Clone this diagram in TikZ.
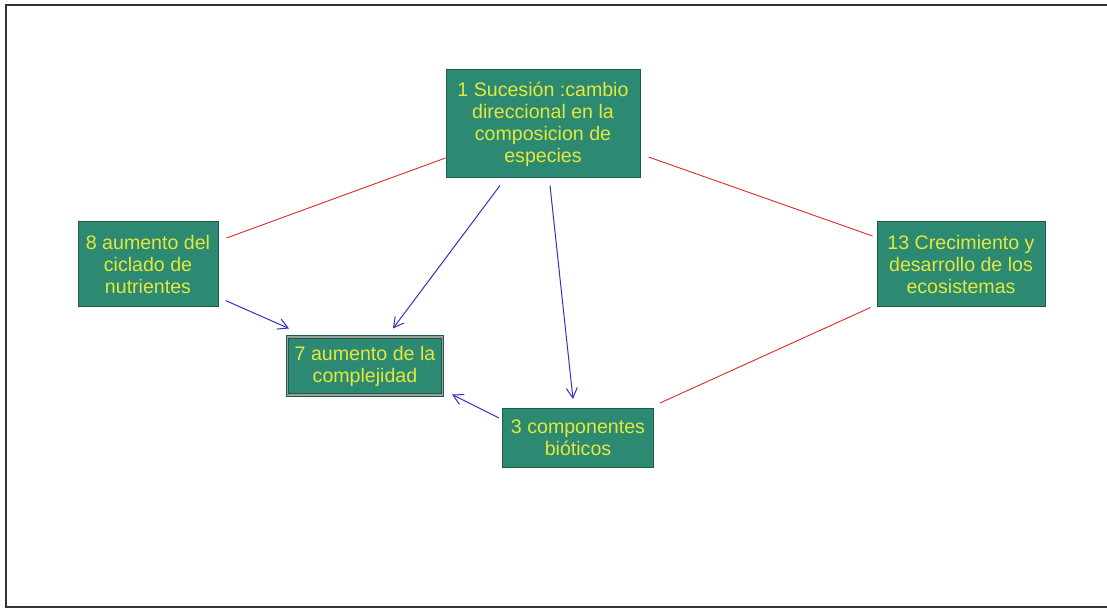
\documentclass[tikz,border=0pt]{standalone}
\usepackage{fontspec}
\setmainfont{Liberation Sans}
\usepackage{xcolor}
\usepackage{tikz}
\usetikzlibrary{arrows.meta}
\definecolor{boxfill}{RGB}{44,138,114}
\definecolor{boxedge}{RGB}{30,90,74}
\definecolor{boxtext}{RGB}{228,232,60}
\definecolor{linkred}{RGB}{225,40,40}
\definecolor{linkblue}{RGB}{50,50,190}

\begin{document}
\begin{tikzpicture}[x=1pt, y=-1pt,
			box/.style={rectangle, draw=boxedge, line width=1pt, fill=boxfill, text=boxtext,
				align=center, inner sep=0pt, font=\fontsize{19.6}{22}\selectfont},
			cplx/.style={box, draw=boxedge, double=gray!75, double distance=1.2pt},
			rel/.style={draw=linkred, line width=0.9pt},
			arr/.style={-{Straight Barb[length=10pt, width=11pt]}, draw=linkblue, line width=1pt}
			]
			\useasboundingbox (0,0) rectangle (1107,609);
			\draw[line width=2pt, black!80] (1107,5) -- (6,5) -- (6,607) -- (1107,607);
			
			\node[box, minimum width=194pt, minimum height=108pt] (suc) at (543,124) {1 Sucesión :cambio\\direccional en la\\composicion de\\especies};
			\node[box, minimum width=140pt, minimum height=84pt] (cic) at (148,264) {8 aumento del\\ciclado de\\nutrientes};
			\node[cplx, minimum width=155pt, minimum height=58pt] (com) at (365,366) {7 aumento de la\\complejidad};
			\node[box, minimum width=151pt, minimum height=59pt] (bio) at (578,438) {3 componentes\\bióticos};
			\node[box, minimum width=168pt, minimum height=84pt] (eco) at (961,264) {13 Crecimiento y\\desarrollo de los\\ecosistemas};
			
			\draw[rel] ([yshift=-34pt]suc.west) -- ([xshift=8pt, yshift=26pt]cic.east);
			\draw[rel] ([xshift=8pt, yshift=-33pt]suc.east) -- ([xshift=-4pt, yshift=28pt]eco.west);
			\draw[rel] ([xshift=-6pt, yshift=-1pt]eco.south west) -- ([xshift=6pt, yshift=5pt]bio.north east);
			
			\draw[arr] ([xshift=7pt, yshift=6pt]cic.south east) -- ([xshift=2pt, yshift=8pt]com.north west);
			\draw[arr] ([xshift=-43pt, yshift=-7pt]suc.south) -- ([xshift=28pt, yshift=8pt]com.north);
			\draw[arr] ([xshift=7pt, yshift=-7pt]suc.south) -- ([xshift=-5pt, yshift=9pt]bio.north);
			\draw[arr] ([xshift=-3pt, yshift=20pt]bio.west) -- ([xshift=9pt, yshift=1pt]com.south east);
		\end{tikzpicture}
\end{document}
